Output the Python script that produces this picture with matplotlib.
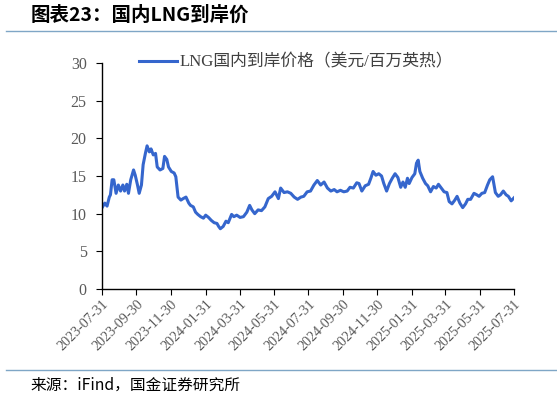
import numpy as np
import pandas as pd
import matplotlib
matplotlib.use("Agg")
import matplotlib.pyplot as plt
from matplotlib.lines import Line2D

plt.rcParams['font.family'] = ['Liberation Serif', 'Noto Sans CJK SC', 'DejaVu Sans']

# ---- data ----
start = "2023-07-31"
day_offsets = [
    1, 5, 9, 13, 15, 18, 21, 25, 29, 33, 37, 40, 44, 47, 51, 56, 59, 63, 66, 70,
    73, 77, 80, 84, 87, 91, 95, 98, 103, 108, 111, 115, 118, 123, 128, 131, 135, 140, 144, 149,
    154, 157, 162, 166, 170, 175, 180, 184, 189, 194, 199, 204, 207, 210, 215, 220, 224, 230, 234, 239,
    245, 251, 257, 262, 266, 271, 277, 283, 289, 295, 301, 307, 313, 317, 323, 329, 335, 341, 347, 353,
    358, 364, 370, 376, 382, 388, 394, 400, 406, 412, 417, 423, 429, 435, 440, 446, 452, 456, 461, 467,
    473, 477, 481, 486, 491, 496, 500, 505, 510, 515, 520, 525, 530, 534, 538, 542, 545, 550, 555, 558,
    561, 564, 569, 574, 578, 583, 588, 593, 597, 602, 607, 612, 616, 621, 626, 630, 635, 640, 645, 649,
    654, 660, 665, 669, 674, 679, 684, 688, 693, 698, 703, 707, 712, 717, 721, 726, 731,
]
lng_price = [
    10.9, 11.4, 11.0, 12.2, 12.5, 14.5, 14.5, 12.7, 13.8, 13.0, 13.8, 13.0, 13.9, 12.7, 14.5, 15.8, 15.1, 13.8, 12.7, 13.8,
    16.5, 18.0, 19.0, 18.2, 18.6, 17.8, 18.0, 16.2, 15.8, 16.0, 17.6, 17.2, 16.2, 15.6, 15.4, 14.9, 12.2, 11.8, 12.0, 12.2,
    11.4, 11.1, 10.9, 10.2, 9.9, 9.6, 9.4, 9.8, 9.5, 9.1, 8.8, 8.7, 8.3, 8.0, 8.3, 9.0, 8.8, 9.9, 9.6, 9.8,
    9.5, 9.6, 10.2, 11.1, 10.5, 10.0, 10.5, 10.4, 10.9, 12.0, 12.3, 12.9, 12.0, 13.4, 12.8, 12.9, 12.7, 12.2, 11.9, 12.2,
    12.3, 12.9, 13.0, 13.8, 14.4, 13.8, 14.2, 13.4, 13.0, 13.2, 12.9, 13.1, 12.9, 13.0, 13.5, 13.4, 14.1, 14.0, 13.0, 13.7,
    13.9, 14.7, 15.6, 15.1, 15.3, 15.0, 14.0, 13.0, 14.0, 14.7, 15.3, 14.8, 13.5, 14.2, 13.5, 14.7, 14.0, 14.8, 15.3, 16.7,
    17.1, 15.6, 14.7, 14.0, 13.7, 12.9, 13.6, 13.4, 13.9, 13.4, 12.9, 12.8, 11.6, 11.3, 11.8, 12.3, 11.4, 10.8, 11.3, 11.9,
    11.9, 12.7, 12.5, 12.3, 12.7, 12.8, 13.8, 14.5, 14.9, 12.8, 12.3, 12.5, 13.0, 12.5, 12.3, 11.7, 12.1,
]
tick_labels = [
    "2023-07-31", "2023-09-30", "2023-11-30", "2024-01-31", "2024-03-31", "2024-05-31", "2024-07-31",
    "2024-09-30", "2024-11-30", "2025-01-31", "2025-03-31", "2025-05-31", "2025-07-31",
]
y_ticks = [0, 5, 10, 15, 20, 25, 30]

dates = pd.Timestamp(start) + pd.to_timedelta(day_offsets, unit="D")
tick_dates = pd.to_datetime(tick_labels)

line_color = "#3566CD"
rule_color = "#7FA6C6"
grey = "#595959"

fig = plt.figure(figsize=(5.57, 4.03), dpi=100)
ax = fig.add_axes([0.1831, 0.2829, 0.7397, 0.5608])

ax.plot(dates, lng_price, color=line_color, linewidth=2.2, solid_joinstyle="round")

ax.set_xlim(tick_dates[0], tick_dates[-1])
ax.set_ylim(0, 30)
ax.set_yticks(y_ticks)
ax.set_xticks(tick_dates)
ax.set_xticklabels(tick_labels, rotation=45, ha="right", rotation_mode="anchor")

for s in ["top", "right"]:
    ax.spines[s].set_visible(False)
for s in ["left", "bottom"]:
    ax.spines[s].set_color("black")
    ax.spines[s].set_linewidth(1.0)

ax.tick_params(axis="both", direction="out", length=4, width=0.8, colors="black",
               labelcolor=grey, labelsize=11.5)
ax.tick_params(axis="x", labelsize=10.2, pad=2)
ax.tick_params(axis="y", pad=7)

# legend
handle = Line2D([], [], color=line_color, linewidth=2.2)
fig.legend([handle], ["LNG国内到岸价格（美元/百万英热）"], loc="center left",
           bbox_to_anchor=(0.222, 0.845), frameon=False, fontsize=12.1,
           handlelength=2.3, handletextpad=0.15, labelcolor="#404040")

# title, rules, source
fig.text(0.055, 0.962, "图表23：国内LNG到岸价", fontsize=14, fontweight="bold",
         family=["Noto Sans CJK SC", "DejaVu Sans"], va="center", ha="left")
fig.add_artist(Line2D([0.01, 1.0], [0.923, 0.923], color=rule_color, linewidth=1.0,
                      transform=fig.transFigure))
fig.add_artist(Line2D([0.01, 1.0], [0.083, 0.083], color=rule_color, linewidth=1.0,
                      transform=fig.transFigure))
fig.text(0.055, 0.045, "来源：iFind，国金证券研究所", fontsize=11.3,
         family=["Noto Sans CJK SC", "DejaVu Sans"], va="center", ha="left")

fig.savefig("out.png", dpi=100)
